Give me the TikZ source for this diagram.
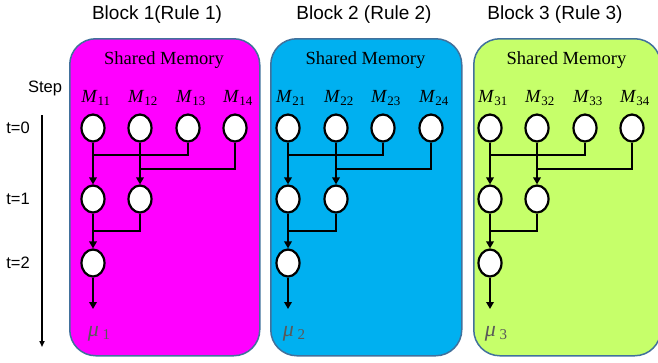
\documentclass[tikz,border=0pt]{standalone}
\usepackage{fontspec}
\setmainfont{Liberation Serif}
\setsansfont{Liberation Sans}
\usetikzlibrary{shapes.geometric, arrows.meta, positioning}

\definecolor{blockpink}{RGB}{255,0,255}
\definecolor{blockblue}{RGB}{0,176,240}
\definecolor{blocklime}{RGB}{198,255,106}
\definecolor{blockedge}{RGB}{65,113,156}

\begin{document}
\begin{tikzpicture}[x=1pt, y=-1pt,
    block/.style={rectangle, draw=blockedge, line width=1.5pt,
                  rounded corners=26pt, inner sep=0pt, anchor=north west},
    mem/.style={ellipse, draw=black, line width=2.2pt, fill=white,
                minimum width=23pt, minimum height=27pt, inner sep=0pt},
    wire/.style={line width=2.8pt},
    arr/.style={wire, -{Triangle[length=7pt, width=7.5pt]}},
    title/.style={font=\sffamily\fontsize{19}{22}\selectfont},
    steplbl/.style={font=\sffamily\fontsize{16.5}{20}\selectfont},
    shared/.style={font=\fontsize{18.5}{22}\selectfont},
    mlbl/.style={font=\fontsize{18.5}{22}\selectfont},
    mulbl/.style={font=\fontsize{22}{24}\selectfont, text=black!65}
  ]
  \useasboundingbox (0,0) rectangle (658,362);

  % Step axis
  \node[steplbl] (step) at (45,88) {Step};
  \node[steplbl] (t0) at (18,128) {t=0};
  \node[steplbl] (t1) at (18,199) {t=1};
  \node[steplbl] (t2) at (18,263) {t=2};
  \coordinate (axtop) at (42,115);
  \coordinate (axbot) at (42,347);
  \draw[line width=1.5pt, -{Triangle[length=6pt, width=5pt]}] (axtop) -- (axbot);

  % Blocks
  \foreach \b/\bx/\bw/\fc/\xa/\xb/\xc/\xd/\tx/\ttl in {
      1/69/190/blockpink/93/140/188/235/157/{Block 1(Rule 1)},
      2/270/191/blockblue/288/336/383/431/364/{Block 2 (Rule 2)},
      3/473/187/blocklime/490/537/585/632/555/{Block 3 (Rule 3)}}{

    % Block frame and titles
    \node[block, fill=\fc, minimum width=\bw pt, minimum height=317pt] (blk\b) at (\bx,38) {};
    \node[title] (ttl\b) at (\tx,15) {\ttl};
    \node[shared] (sm\b) at (\bx+\bw/2,60) {Shared Memory};

    % Memory cells
    \node[mem] (m\b1) at (\xa,128) {};
    \node[mem] (m\b2) at (\xb,128) {};
    \node[mem] (m\b3) at (\xc,128) {};
    \node[mem] (m\b4) at (\xd,128) {};
    \node[mlbl] (lm\b1) at (\xa+3,98) {\textit{M}\textsubscript{\b1}};
    \node[mlbl] (lm\b2) at (\xb+3,98) {\textit{M}\textsubscript{\b2}};
    \node[mlbl] (lm\b3) at (\xc+3,98) {\textit{M}\textsubscript{\b3}};
    \node[mlbl] (lm\b4) at (\xd+3,98) {\textit{M}\textsubscript{\b4}};

    % Reduction steps
    \node[mem] (s\b1) at (\xa,199) {};
    \node[mem] (s\b2) at (\xb,199) {};
    \node[mem] (r\b) at (\xa,263) {};
    \node[mulbl] (mu\b) at (\xa+6,334)
      {\textit{μ}\,\raisebox{-3pt}{\fontsize{15}{16}\selectfont\b}};

    \coordinate (ja\b) at (\xa,155);
    \coordinate (jb\b) at (\xb,169);
    \coordinate (jc\b) at (\xa,231);
    \coordinate (out\b) at (\xa,309);

    % Wires
    \draw[arr] (m\b1) -- (s\b1);
    \draw[wire] (m\b3.south) |- (ja\b);
    \draw[arr] (m\b2) -- (s\b2);
    \draw[wire] (m\b4.south) |- (jb\b);
    \draw[arr] (s\b1) -- (r\b);
    \draw[wire] (s\b2.south) |- (jc\b);
    \draw[arr] (r\b) -- (out\b);
  }
\end{tikzpicture}
\end{document}
